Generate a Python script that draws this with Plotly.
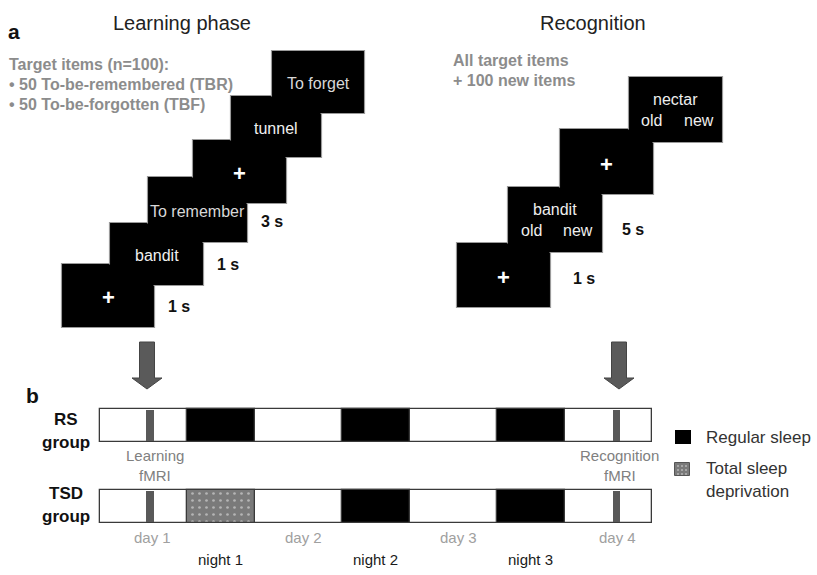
import plotly.graph_objects as go

# ---------------- data ----------------
learning_items = ["+", "bandit", "To remember", "+", "tunnel", "To forget"]
learning_durations = ["1 s", "1 s", "3 s"]
learning_info = ["Target items (n=100):", "• 50 To-be-remembered (TBR)", "• 50 To-be-forgotten (TBF)"]

recognition_items = ["+", "bandit", "+", "nectar"]
response_options = ["old", "new"]
recognition_durations = ["1 s", "5 s"]
recognition_info = ["All target items", "+ 100 new items"]

group_names = ["RS", "TSD"]
timeline_start_h = 8.5
timeline_end_h = 94.0
night_start_h = [22.0, 46.0, 70.0]
night_end_h = [32.5, 56.5, 80.5]
night_labels = ["night 1", "night 2", "night 3"]
night_type = {"RS": ["regular", "regular", "regular"],
              "TSD": ["deprivation", "regular", "regular"]}
day_labels = ["day 1", "day 2", "day 3", "day 4"]
day_label_h = [16.6, 40.0, 64.1, 88.6]
fmri_start_h = [15.7, 88.0]
fmri_end_h = [16.9, 89.1]
fmri_labels = [["Learning", "fMRI"], ["Recognition", "fMRI"]]
legend_labels = [["Regular sleep"], ["Total sleep", "deprivation"]]

# ---------------- layout constants ----------------
W, H = 817, 575
F = "Liberation Sans"
PX_PER_H = 155.0 / 24.0
PX_AT_0H = 44.9

LEARN_X0 = [62, 110, 148, 193, 231, 272]
LEARN_Y0 = [264, 223, 177, 140, 96, 51]
LEARN_W = [92, 93, 99, 93, 90, 92]
LEARN_H = [63, 62, 65, 63, 61, 62]

REC_X0 = [457, 508, 560, 629]
REC_Y0 = [243, 187, 129, 77]
REC_W = [93, 94, 93, 93]
REC_H = [64, 65, 65, 65]

ROW_Y = {"RS": 425.5, "TSD": 506.5}
ROW_T = 33

fig = go.Figure()
shapes = []
ann = []


def txt(x, y, s, size, color, bold=False, xref="x", xanchor="center", xshift=0):
    if bold:
        s = "<b>%s</b>" % s
    ann.append(dict(x=x, y=y, xref=xref, yref="y", text=s, showarrow=False,
                    font=dict(family=F, size=size, color=color),
                    xanchor=xanchor, yanchor="middle", xshift=xshift))


def boxes(x0s, y0s, ws, hs):
    # borders first, then fills, so overlapping boxes merge into one silhouette
    for x0, y0, w, h in zip(x0s, y0s, ws, hs):
        shapes.append(dict(type="rect", xref="x", yref="y", x0=x0 - 0.5, y0=y0 - 0.5,
                           x1=x0 + w + 0.5, y1=y0 + h + 0.5,
                           line=dict(color="#9a9a9a", width=1.2), fillcolor="black", layer="above"))
    for x0, y0, w, h in zip(x0s, y0s, ws, hs):
        shapes.append(dict(type="rect", xref="x", yref="y", x0=x0 + 0.5, y0=y0 + 0.5,
                           x1=x0 + w - 0.5, y1=y0 + h - 0.5,
                           line=dict(width=0), fillcolor="black", layer="above"))


# ---------- panel a: learning ----------
boxes(LEARN_X0, LEARN_Y0, LEARN_W, LEARN_H)
for i, item in enumerate(learning_items):
    cx = LEARN_X0[i] + LEARN_W[i] / 2
    cy = LEARN_Y0[i] + LEARN_H[i] / 2 + 1.5
    if item == "+":
        txt(cx, cy, "+", 22, "white", bold=True)
    else:
        col = "#d8d8d8" if item.startswith("To") else "#f0f0f0"
        txt(cx, cy, item, 16, col)
for i, d in enumerate(learning_durations):
    txt(LEARN_X0[i] + LEARN_W[i] + 12, LEARN_Y0[i] + LEARN_H[i] - 21, d, 16, "#111",
        bold=True, xanchor="left")

# ---------- panel a: recognition ----------
boxes(REC_X0, REC_Y0, REC_W, REC_H)
for i, item in enumerate(recognition_items):
    cx = REC_X0[i] + REC_W[i] / 2
    cy = REC_Y0[i] + REC_H[i] / 2
    if item == "+":
        txt(cx, cy + 2.5, "+", 22, "white", bold=True)
    else:
        txt(cx, cy - 10, item, 16, "#eeeeee")
        txt(cx - 24, cy + 10.5, response_options[0], 16, "#eeeeee")
        txt(cx + 23, cy + 10.5, response_options[1], 16, "#eeeeee")
rec_dur_dx = [21, 18]
rec_dur_dy = [29, 23]
for i, d in enumerate(recognition_durations):
    txt(REC_X0[i] + REC_W[i] + rec_dur_dx[i], REC_Y0[i] + REC_H[i] - rec_dur_dy[i], d, 16,
        "#111", bold=True, xanchor="left")

# titles and info text
txt(14, 31, "a", 21, "#111", bold=True)
txt(182, 23, "Learning phase", 20, "#222")
txt(593, 23, "Recognition", 20, "#222")
for k, line in enumerate(learning_info):
    txt(7, 64 + 20 * k, line, 16, "#8c8c8c", bold=True, xanchor="left")
for k, line in enumerate(recognition_info):
    txt(451, 60 + 20 * k, line, 16, "#8c8c8c", bold=True, xanchor="left")

# arrows
for cx in (147, 619):
    path = ("M %g,342 L %g,342 L %g,378 L %g,378 L %g,389 L %g,378 L %g,378 Z"
            % (cx - 7.5, cx + 7.5, cx + 7.5, cx + 15, cx, cx - 15, cx - 7.5))
    shapes.append(dict(type="path", xref="x", yref="y", path=path,
                       fillcolor="#5a5a5a", line=dict(color="#444", width=1)))

# ---------- panel b: timeline (hours axis x2) ----------
txt(32, 395, "b", 21, "#111", bold=True)
for g in group_names:
    yc = ROW_Y[g]
    fig.add_trace(go.Bar(orientation="h", y=[yc], x=[timeline_end_h - timeline_start_h],
                         base=[timeline_start_h], width=[ROW_T], xaxis="x2", yaxis="y",
                         marker=dict(color="white", line=dict(color="#3a3a3a", width=1.3)),
                         showlegend=False, hoverinfo="skip"))
    for s, e, t in zip(night_start_h, night_end_h, night_type[g]):
        if t == "regular":
            mk = dict(color="black", line=dict(color="#3a3a3a", width=1.3))
        else:
            mk = dict(color="#7a7a7a", line=dict(color="#3a3a3a", width=1.3),
                      pattern=dict(shape=".", fgcolor="#f0f0f0", size=7, solidity=0.12,
                                   fillmode="overlay"))
        fig.add_trace(go.Bar(orientation="h", y=[yc], x=[e - s], base=[s], width=[ROW_T],
                             xaxis="x2", yaxis="y", marker=mk,
                             showlegend=False, hoverinfo="skip"))
    for s, e in zip(fmri_start_h, fmri_end_h):
        fig.add_trace(go.Bar(orientation="h", y=[yc], x=[e - s], base=[s], width=[ROW_T - 2],
                             xaxis="x2", yaxis="y",
                             marker=dict(color="#595959", line=dict(width=0)),
                             showlegend=False, hoverinfo="skip"))
    name_y = yc - 6 if g == "RS" else yc - 13
    txt(66, name_y, g, 17, "#111", bold=True)
    txt(66, name_y + 23, "group", 17, "#111", bold=True)

for (lab1, lab2), s, e, dx in zip(fmri_labels, fmri_start_h, fmri_end_h, [5, 3]):
    m = (s + e) / 2
    txt(m, 455, lab1, 15, "#808080", xref="x2", xshift=dx)
    txt(m, 475, lab2, 15, "#808080", xref="x2", xshift=dx)

for lab, h in zip(day_labels, day_label_h):
    txt(h, 537, lab, 15, "#a0a0a0", xref="x2")
for lab, s, e in zip(night_labels, night_start_h, night_end_h):
    txt((s + e) / 2, 559, lab, 15, "#1a1a1a", xref="x2")

# legend keys
fig.add_trace(go.Bar(orientation="h", y=[437], x=[16], base=[675], width=[14],
                     xaxis="x", yaxis="y", marker=dict(color="black", line=dict(width=0)),
                     showlegend=False, hoverinfo="skip"))
fig.add_trace(go.Bar(orientation="h", y=[469], x=[15], base=[675], width=[13],
                     xaxis="x", yaxis="y",
                     marker=dict(color="#7a7a7a", line=dict(color="#555", width=1),
                                 pattern=dict(shape=".", fgcolor="#f0f0f0", size=4,
                                              solidity=0.2, fillmode="overlay")),
                     showlegend=False, hoverinfo="skip"))
txt(704, 437, legend_labels[0][0], 17, "#333", xanchor="left")
txt(704, 468, legend_labels[1][0], 17, "#333", xanchor="left")
txt(704, 491, legend_labels[1][1], 17, "#333", xanchor="left")

fig.update_layout(
    width=W, height=H, margin=dict(l=0, r=0, t=0, b=0),
    paper_bgcolor="white", plot_bgcolor="white",
    barmode="overlay", bargap=0, showlegend=False,
    xaxis=dict(range=[0, W], visible=False, fixedrange=True),
    xaxis2=dict(range=[(0 - PX_AT_0H) / PX_PER_H, (W - PX_AT_0H) / PX_PER_H],
                overlaying="x", visible=False, fixedrange=True),
    yaxis=dict(range=[H, 0], visible=False, fixedrange=True),
    shapes=shapes, annotations=ann,
)

fig.write_html("out.html", config={"displayModeBar": False},
               post_script="document.body.style.margin='0';document.body.style.overflow='hidden';")
